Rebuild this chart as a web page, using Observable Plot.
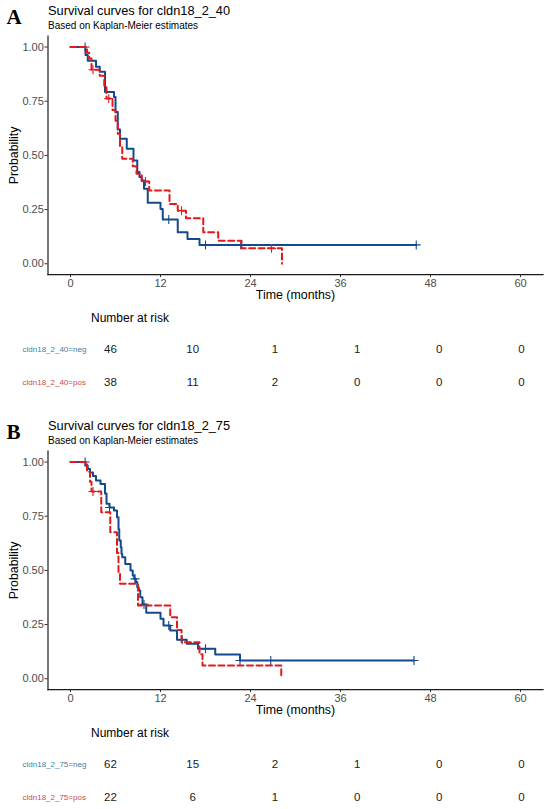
<!DOCTYPE html>
<html><head><meta charset="utf-8">
<script src="https://cdn.jsdelivr.net/npm/d3@7"></script>
<script src="https://cdn.jsdelivr.net/npm/@observablehq/plot@0.6"></script>
<style>
body{margin:0;background:#fff;}
#root{position:relative;width:550px;height:809px;font-family:"Liberation Sans",Arial,sans-serif;overflow:hidden;background:#fff;}
.abs{position:absolute;white-space:nowrap;line-height:1;color:#000;}
.plotwrap{position:absolute;left:0;}
</style></head><body><div id="root"></div>
<script>
// ---------- DATA ----------
const xTicks = [0, 12, 24, 36, 48, 60];
const yTicks = [0, 0.25, 0.5, 0.75, 1];
const riskTimes = [0, 12, 24, 36, 48, 60];

// Panel A: cldn18_2_40
const a_neg_time = [0, 2.0, 2.3, 3.4, 3.9, 4.6, 5.8, 6.0, 6.3, 6.6, 7.5, 8.4, 8.9, 9.2, 9.5, 9.8, 10.3, 12.0, 12.3, 14.3, 15.6, 17.2, 46.1];
const a_neg_surv = [1, 0.963, 0.937, 0.909, 0.886, 0.793, 0.770, 0.700, 0.619, 0.577, 0.531, 0.477, 0.423, 0.400, 0.384, 0.346, 0.281, 0.253, 0.204, 0.145, 0.114, 0.087, 0.087];
const a_neg_cens = [1.95, 13.1, 18.0, 22.7, 46.1];
const a_pos_time = [0, 2.2, 2.5, 2.8, 3.9, 4.5, 4.8, 5.6, 6.0, 6.3, 6.6, 6.9, 8.3, 8.8, 9.5, 10.5, 13.2, 14.3, 15.4, 17.7, 19.7, 22.8, 28.2];
const a_pos_surv = [1, 0.974, 0.947, 0.895, 0.868, 0.815, 0.762, 0.710, 0.660, 0.600, 0.540, 0.485, 0.450, 0.415, 0.380, 0.338, 0.276, 0.245, 0.210, 0.145, 0.106, 0.071, 0];
const a_pos_cens = [3.0, 5.1, 10.0, 14.8, 26.8];
const a_risk_neg = [46, 10, 1, 1, 0, 0];
const a_risk_pos = [38, 11, 2, 0, 0, 0];

// Panel B: cldn18_2_75
const b_neg_time = [0, 2.0, 2.3, 2.6, 3.0, 3.4, 4.0, 4.6, 4.8, 5.2, 5.8, 6.2, 6.4, 6.5, 6.7, 6.8, 6.9, 7.3, 8.0, 8.3, 8.5, 8.7, 8.9, 9.1, 9.3, 9.6, 10.1, 12.0, 12.4, 13.3, 14.2, 15.5, 17.0, 19.3, 22.6, 45.8];
const b_neg_surv = [1, 0.984, 0.968, 0.952, 0.936, 0.915, 0.899, 0.855, 0.807, 0.790, 0.776, 0.745, 0.690, 0.638, 0.607, 0.577, 0.561, 0.530, 0.500, 0.476, 0.461, 0.446, 0.422, 0.407, 0.376, 0.343, 0.304, 0.277, 0.246, 0.223, 0.180, 0.161, 0.138, 0.112, 0.084, 0.084];
const b_neg_cens = [1.95, 5.2, 8.6, 9.8, 13.1, 14.9, 18.0, 22.6, 26.7, 45.8];
const b_pos_time = [0, 2.2, 2.6, 2.8, 4.1, 5.3, 6.2, 6.4, 6.6, 9.0, 13.3, 14.2, 14.8, 17.2, 17.6, 28.1];
const b_pos_surv = [1, 0.955, 0.909, 0.864, 0.768, 0.676, 0.580, 0.490, 0.438, 0.338, 0.284, 0.225, 0.169, 0.113, 0.061, 0];
const b_pos_cens = [3.0];
const b_risk_neg = [62, 15, 2, 1, 0, 0];
const b_risk_pos = [22, 6, 1, 0, 0, 0];

const panels = [
  {letter: "A", name: "cldn18_2_40", top: 0,
   neg: {time: a_neg_time, surv: a_neg_surv, cens: a_neg_cens, risk: a_risk_neg},
   pos: {time: a_pos_time, surv: a_pos_surv, cens: a_pos_cens, risk: a_risk_pos}},
  {letter: "B", name: "cldn18_2_75", top: 415,
   neg: {time: b_neg_time, surv: b_neg_surv, cens: b_neg_cens, risk: b_risk_neg},
   pos: {time: b_pos_time, surv: b_pos_surv, cens: b_pos_cens, risk: b_risk_pos}}
];

// ---------- STYLE ----------
const BLUE = "#134a8c";
const RED = "#e31a1c";
const LBL_BLUE = "#3f7f9f";
const LBL_RED = "#c94c4c";
const FONT = "'Liberation Sans', Arial, sans-serif";

function rows(time, surv) { return time.map((t, i) => ({t, s: surv[i]})); }
function survAt(time, surv, t) { const i = d3.bisectRight(time, t) - 1; return surv[Math.max(0, i)]; }
function censRows(g) { return g.cens.map(t => ({t, s: survAt(g.time, g.surv, t)})); }

const root = document.getElementById("root");

function addText(txt, left, top, size, extra) {
  const d = document.createElement("div");
  d.className = "abs";
  d.textContent = txt;
  d.style.left = left + "px";
  d.style.top = top + "px";
  d.style.fontSize = size + "px";
  if (extra) Object.assign(d.style, extra);
  root.appendChild(d);
}

for (const p of panels) {
  const T = p.top;
  addText(p.letter, 6.5, T + 7.2, 21, {fontFamily: "'Liberation Serif','DejaVu Serif',serif", fontWeight: "bold"});
  addText("Survival curves for " + p.name, 48, T + 5.2, 12.8);
  addText("Based on Kaplan-Meier estimates", 48, T + 20.5, 10);
  addText("Number at risk", 91, T + 311.5, 12);

  const chart = Plot.plot({
    width: 550, height: 304.1,
    marginLeft: 47.5, marginRight: 7.5, marginTop: 35.7, marginBottom: 30,
    style: {background: "transparent", overflow: "visible", fontFamily: FONT},
    x: {domain: [-3, 63]},
    y: {domain: [-0.05, 1.05]},
    marks: [
      Plot.axisX({ticks: xTicks, tickSize: 3, tickPadding: 1.5, fontSize: 11, fill: "#4d4d4d", stroke: "#333", label: null}),
      Plot.axisY({ticks: yTicks, tickSize: 3, tickPadding: 1.2, fontSize: 11, fill: "#4d4d4d", stroke: "#333", tickFormat: d3.format(".2f"), label: null}),
      Plot.frame({anchor: "left", stroke: "#1a1a1a", strokeWidth: 1.2}),
      Plot.frame({anchor: "bottom", stroke: "#1a1a1a", strokeWidth: 1.2}),
      Plot.line(rows(p.neg.time, p.neg.surv), {x: "t", y: "s", curve: "step-after", stroke: BLUE, strokeWidth: 2}),
      Plot.dot(censRows(p.neg), {x: "t", y: "s", symbol: "plus", r: 3, stroke: BLUE, strokeWidth: 1.1}),
      Plot.line(rows(p.pos.time, p.pos.surv), {x: "t", y: "s", curve: "step-after", stroke: RED, strokeWidth: 2, strokeDasharray: "6,3.5"}),
      Plot.dot(censRows(p.pos), {x: "t", y: "s", symbol: "plus", r: 3, stroke: RED, strokeWidth: 1.1}),
      Plot.text(["Probability"], {frameAnchor: "left", textAnchor: "middle", lineAnchor: "middle", rotate: -90, dx: -34.2, fontSize: 12.4, fill: "#000"}),
      Plot.text(["Time (months)"], {frameAnchor: "bottom", textAnchor: "middle", lineAnchor: "middle", dy: 20.7, fontSize: 12.4, fill: "#000"})
    ]
  });
  const w1 = document.createElement("div");
  w1.className = "plotwrap";
  w1.style.top = T + "px";
  w1.appendChild(chart);
  root.appendChild(w1);

  const riskRows = [];
  riskTimes.forEach((t, i) => {
    riskRows.push({t, g: "neg", n: p.neg.risk[i]});
    riskRows.push({t, g: "pos", n: p.pos.risk[i]});
  });
  const table = Plot.plot({
    width: 550, height: 100,
    marginLeft: 110, marginRight: 29, marginTop: 48.5, marginBottom: 18.3,
    style: {background: "transparent", overflow: "visible", fontFamily: FONT},
    x: {domain: [0, 60], axis: null},
    y: {type: "point", domain: ["neg", "pos"], padding: 0, axis: null},
    marks: [
      Plot.text(riskRows, {x: "t", y: "g", text: d => String(d.n), fontSize: 11.5, fill: "#1a1a1a", lineAnchor: "middle"}),
      Plot.text([{g: "neg", label: p.name + "=neg"}], {y: "g", text: "label", frameAnchor: "left", textAnchor: "start", lineAnchor: "middle", dx: -88, fontSize: 8, fill: LBL_BLUE}),
      Plot.text([{g: "pos", label: p.name + "=pos"}], {y: "g", text: "label", frameAnchor: "left", textAnchor: "start", lineAnchor: "middle", dx: -88, fontSize: 8, fill: LBL_RED})
    ]
  });
  const w2 = document.createElement("div");
  w2.className = "plotwrap";
  w2.style.top = (T + 300) + "px";
  w2.appendChild(table);
  root.appendChild(w2);
}
</script></body></html>
